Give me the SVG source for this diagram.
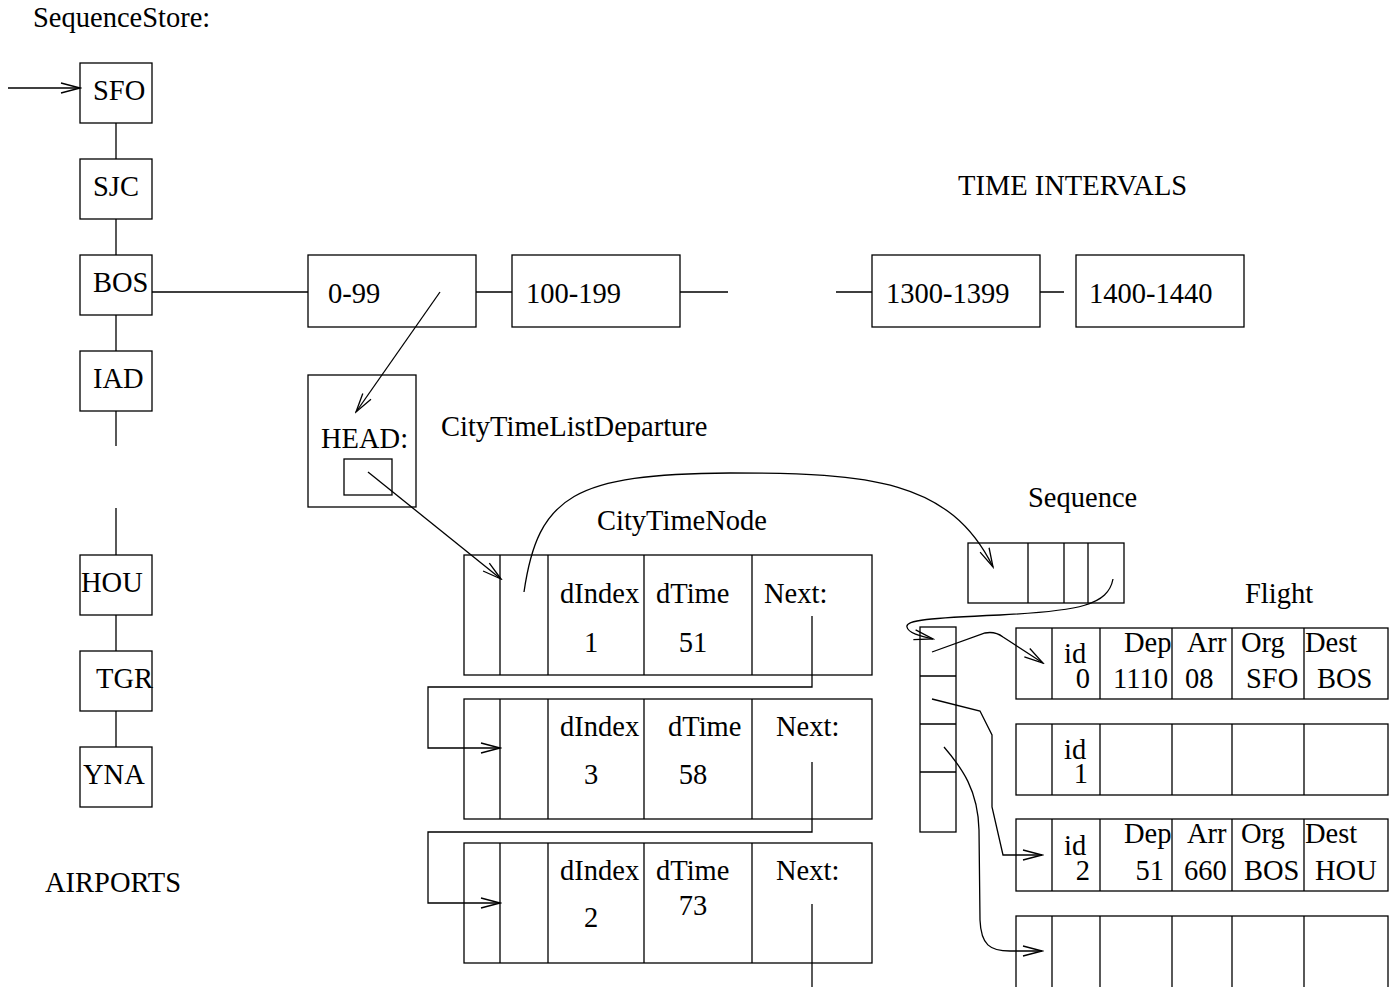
<svg xmlns="http://www.w3.org/2000/svg" width="1391" height="987" viewBox="0 0 1391 987">
<style>
.b{fill:none;stroke:#000;stroke-width:1.3}
.t{font-family:"Liberation Serif","Times New Roman",serif;font-size:28.5px;fill:#000}
.c{stroke:#000;stroke-width:1.3;fill:none}
.a{stroke:#000;stroke-width:1.3;fill:none;marker-end:url(#ah)}
</style>
<defs>
<marker id="ah" markerUnits="userSpaceOnUse" markerWidth="22" markerHeight="14" viewBox="0 0 22 14" refX="20" refY="7" orient="auto">
<path d="M1,2 L20,7 L1,12" fill="none" stroke="#000" stroke-width="1.3"/>
</marker>
</defs>
<rect width="1391" height="987" fill="#fff"/>

<text class="t" x="33" y="27">SequenceStore:</text>
<text class="t" x="45" y="892">AIRPORTS</text>
<text class="t" x="958" y="195">TIME INTERVALS</text>
<text class="t" x="441" y="436">CityTimeListDeparture</text>
<text class="t" x="597" y="530">CityTimeNode</text>
<text class="t" x="1028" y="507">Sequence</text>
<text class="t" x="1245" y="603">Flight</text>

<g id="airport-SFO"><rect class="b" x="80" y="63" width="72" height="60"/><text class="t" x="93" y="100">SFO</text></g>
<g id="airport-SJC"><rect class="b" x="80" y="159" width="72" height="60"/><text class="t" x="93" y="196">SJC</text></g>
<g id="airport-BOS"><rect class="b" x="80" y="255" width="72" height="60"/><text class="t" x="93" y="292">BOS</text></g>
<g id="airport-IAD"><rect class="b" x="80" y="351" width="72" height="60"/><text class="t" x="93" y="388">IAD</text></g>
<g id="airport-HOU"><rect class="b" x="80" y="555" width="72" height="60"/><text class="t" x="81" y="592">HOU</text></g>
<g id="airport-TGR"><rect class="b" x="80" y="651" width="72" height="60"/><text class="t" x="96" y="688">TGR</text></g>
<g id="airport-YNA"><rect class="b" x="80" y="747" width="72" height="60"/><text class="t" x="83" y="784">YNA</text></g>

<g id="interval-0-99"><rect class="b" x="308" y="255" width="168" height="72"/><text class="t" x="328" y="303">0-99</text></g>
<g id="interval-100-199"><rect class="b" x="512" y="255" width="168" height="72"/><text class="t" x="526" y="303">100-199</text></g>
<g id="interval-1300-1399"><rect class="b" x="872" y="255" width="168" height="72"/><text class="t" x="886" y="303">1300-1399</text></g>
<g id="interval-1400-1440"><rect class="b" x="1076" y="255" width="168" height="72"/><text class="t" x="1089" y="303">1400-1440</text></g>

<g id="head"><rect class="b" x="308" y="375" width="108" height="132"/><text class="t" x="321" y="448">HEAD:</text><rect class="b" x="344" y="459" width="48" height="36"/></g>

<g id="node1"><rect class="b" x="464" y="555" width="408" height="120"/>
<path class="b" d="M500,555V675M548,555V675M644,555V675M752,555V675"/>
<text class="t" x="560" y="603">dIndex</text><text class="t" x="656" y="603">dTime</text><text class="t" x="764" y="603">Next:</text>
<text class="t" x="591" y="652" text-anchor="middle">1</text><text class="t" x="693" y="652" text-anchor="middle">51</text></g>
<g id="node2"><rect class="b" x="464" y="699" width="408" height="120"/>
<path class="b" d="M500,699V819M548,699V819M644,699V819M752,699V819"/>
<text class="t" x="560" y="736">dIndex</text><text class="t" x="668" y="736">dTime</text><text class="t" x="776" y="736">Next:</text>
<text class="t" x="591" y="784" text-anchor="middle">3</text><text class="t" x="693" y="784" text-anchor="middle">58</text></g>
<g id="node3"><rect class="b" x="464" y="843" width="408" height="120"/>
<path class="b" d="M500,843V963M548,843V963M644,843V963M752,843V963"/>
<text class="t" x="560" y="880">dIndex</text><text class="t" x="656" y="880">dTime</text><text class="t" x="776" y="880">Next:</text>
<text class="t" x="591" y="927" text-anchor="middle">2</text><text class="t" x="693" y="915" text-anchor="middle">73</text></g>

<g id="sequence"><rect class="b" x="968" y="543" width="156" height="60"/><path class="b" d="M1028,543V603M1064,543V603M1088,543V603"/></g>
<g id="seq-column"><rect class="b" x="920" y="627" width="36" height="205"/><path class="b" d="M920,676H956M920,724H956M920,772H956"/></g>

<g id="flight0"><rect class="b" x="1016" y="628" width="372" height="71"/>
<path class="b" d="M1052,628V699M1100,628V699M1172,628V699M1232,628V699M1304,628V699"/>
<text class="t" x="1064" y="663">id</text><text class="t" x="1090" y="688" text-anchor="end">0</text>
<text class="t" x="1124" y="652">Dep</text><text class="t" x="1187" y="652">Arr</text><text class="t" x="1241" y="652">Org</text><text class="t" x="1305" y="652">Dest</text>
<text class="t" x="1113" y="688">1110</text><text class="t" x="1185" y="688">08</text><text class="t" x="1246" y="688">SFO</text><text class="t" x="1317" y="688">BOS</text></g>
<g id="flight1"><rect class="b" x="1016" y="724" width="372" height="71"/>
<path class="b" d="M1052,724V795M1100,724V795M1172,724V795M1232,724V795M1304,724V795"/>
<text class="t" x="1064" y="759">id</text><text class="t" x="1088" y="783" text-anchor="end">1</text></g>
<g id="flight2"><rect class="b" x="1016" y="819" width="372" height="72"/>
<path class="b" d="M1052,819V891M1100,819V891M1172,819V891M1232,819V891M1304,819V891"/>
<text class="t" x="1064" y="855">id</text><text class="t" x="1090" y="880" text-anchor="end">2</text>
<text class="t" x="1124" y="843">Dep</text><text class="t" x="1187" y="843">Arr</text><text class="t" x="1241" y="843">Org</text><text class="t" x="1305" y="843">Dest</text>
<text class="t" x="1164" y="880" text-anchor="end">51</text><text class="t" x="1184" y="880">660</text><text class="t" x="1244" y="880">BOS</text><text class="t" x="1315" y="880">HOU</text></g>
<g id="flight3"><rect class="b" x="1016" y="916" width="372" height="90"/>
<path class="b" d="M1052,916V1006M1100,916V1006M1172,916V1006M1232,916V1006M1304,916V1006"/></g>

<g id="connectors">
<path class="a" d="M8,88H80"/>
<path class="c" d="M116,123V159M116,219V255M116,315V351M116,411V446M116,508V555M116,615V651M116,711V747"/>
<path class="c" d="M152,292H308M476,292H512M680,292H728M836,292H872M1040,292H1064"/>
<path class="a" d="M440,292L356,412"/>
<path class="a" d="M368,472L501,579"/>
<path class="a" d="M524,592C538,495 575,474 730,473C870,473 950,480 993,567"/>
<path class="a" d="M812,616V687H428V748H500"/>
<path class="a" d="M812,762V832H428V903H500"/>
<path class="c" d="M812,904V987"/>
<path class="a" d="M1113,579C1108,605 1080,611 1000,615C930,618 905,620 907,627C908,633 920,636 933,639"/>
<path class="a" d="M932,652L985,633Q995,631 1003,637L1043,663"/>
<path class="a" d="M932,699L980,711L992,735V807L1003,855H1042"/>
<path class="a" d="M944,747C962,768 978,790 979,830L980,920C981,945 990,951 1010,951H1042"/>
</g>
</svg>
